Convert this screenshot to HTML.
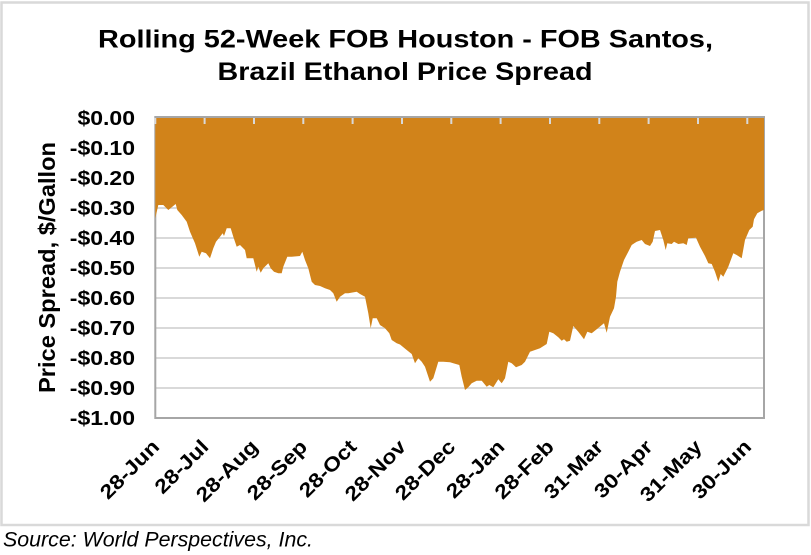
<!DOCTYPE html>
<html>
<head>
<meta charset="utf-8">
<style>
  html, body { margin:0; padding:0; background:#ffffff; }
  body { width:811px; height:555px; overflow:hidden; }
  svg { display:block; }
  text { font-family:"Liberation Sans", Arial, sans-serif; fill:#000; }
</style>
</head>
<body>
<svg width="811" height="555" viewBox="0 0 811 555" xmlns="http://www.w3.org/2000/svg">
  <rect x="0" y="0" width="811" height="555" fill="#ffffff"/>
  <!-- outer chart border -->
  <rect x="1.5" y="2.5" width="807" height="522.5" fill="none" stroke="#d9d9d9" stroke-width="2.5"/>

  <!-- title -->
  <text x="405.5" y="47.3" font-size="25" font-weight="bold" text-anchor="middle" textLength="615" lengthAdjust="spacingAndGlyphs">Rolling 52-Week FOB Houston - FOB Santos,</text>
  <text x="405" y="80" font-size="25" font-weight="bold" text-anchor="middle" textLength="375" lengthAdjust="spacingAndGlyphs">Brazil Ethanol Price Spread</text>

  <!-- gridlines -->
  <g stroke="#d9d9d9" stroke-width="2">
    <line x1="155" y1="148" x2="764" y2="148"/>
    <line x1="155" y1="178" x2="764" y2="178"/>
    <line x1="155" y1="208" x2="764" y2="208"/>
    <line x1="155" y1="238" x2="764" y2="238"/>
    <line x1="155" y1="268" x2="764" y2="268"/>
    <line x1="155" y1="298" x2="764" y2="298"/>
    <line x1="155" y1="328" x2="764" y2="328"/>
    <line x1="155" y1="358" x2="764" y2="358"/>
    <line x1="155" y1="388" x2="764" y2="388"/>
  </g>

  <!-- plot border -->
  <rect x="155.3" y="117" width="608.7" height="301" fill="none" stroke="#a6a6a6" stroke-width="2"/>

  <!-- area -->
  <path fill="#d1831a" d="M155.3,118 L155.3,218.3 L158.3,205 L163.3,205 L168.3,210 L171.7,207.3 L175.7,204 L177.3,210 L181.7,215 L186.7,221.7 L190,231.7 L195,243.3 L199.3,256.7 L201.7,251.7 L206,253.3 L210,258.3 L213.3,248.3 L216,241.7 L220,236.7 L222.7,233.3 L224,236 L226.7,228.3 L230.7,228.3 L233.3,236.7 L236.7,246.7 L240,245 L245,250 L246.7,258.3 L253.3,258.3 L255,265 L256.7,271.7 L258.3,266.7 L260.7,272.7 L263.3,268.3 L268.3,263.3 L270.7,268.3 L274,271.7 L278.3,273.3 L281.7,273.3 L283.3,266.7 L287.3,256.7 L291.7,256.7 L300,256 L302.3,251.7 L305,260 L308.3,268.3 L311.7,281.7 L315,285 L320,286 L325,288.3 L330,290 L333.3,293.3 L336.7,301.7 L340,296.7 L345,293.3 L348.3,293.3 L356.7,291.7 L360,294 L365,296.7 L368.3,313.3 L370.7,328.3 L372.7,318.3 L376.7,318.3 L380,325 L385,328.3 L389.3,333.3 L391.7,340 L396.7,343.3 L400,344.5 L406.7,350 L411.7,354 L415,363.3 L418.3,358.3 L421.7,361.7 L425,366.7 L430,381.7 L433.3,378.3 L438.3,361.7 L443.3,361.7 L450,362.3 L453.3,363.3 L459.3,365 L461.7,376.7 L465,390 L468.3,387.3 L471.7,383.3 L476.7,380.7 L481.7,380.7 L486.7,386.7 L489.3,385 L493.3,387.3 L498.3,379.3 L501.7,383.3 L505,378.3 L508.3,361.7 L511.7,363.3 L516,367.3 L521.7,365 L525,361.7 L530,351.7 L535,350 L540,348.3 L546.7,344 L549.3,331.7 L553.3,333.3 L558.3,337.3 L561.7,340.7 L564,339.3 L566.7,341.7 L570,340.7 L573.3,326 L578.3,331.7 L584,339.3 L587.3,331.7 L591.7,333.3 L596.7,329.3 L604,323.3 L606.7,332.7 L610,316.7 L614,308.3 L616,296.7 L617.3,281.7 L620,271.7 L624,260 L628.3,251.7 L631.7,245 L636.7,241.7 L641.7,240 L645,244 L650,246 L652.7,241.7 L655,231 L660,230 L663.3,240 L665.7,250 L667.3,243.3 L671.7,244 L674,241.7 L678.3,244 L683.3,243.3 L686.7,245 L688.3,238.3 L696,237.7 L700,246.7 L705,256 L708.3,263.3 L711.7,264 L715,271.7 L718.3,281.7 L720.7,274 L723.3,276.7 L728.3,266.7 L733.3,253.3 L736.7,255 L741.7,258.3 L745,240 L749.3,230 L752.7,226.7 L754,219.3 L757.3,213.3 L761.7,210.7 L764,210 L764,118 Z"/>

  <!-- tick marks -->
  <g stroke="#d9d9d9" stroke-width="2">
    <line x1="155.3" y1="118" x2="155.3" y2="124"/>
    <line x1="204.6" y1="118" x2="204.6" y2="124"/>
    <line x1="254" y1="118" x2="254" y2="124"/>
    <line x1="303.3" y1="118" x2="303.3" y2="124"/>
    <line x1="352.6" y1="118" x2="352.6" y2="124"/>
    <line x1="402" y1="118" x2="402" y2="124"/>
    <line x1="451.3" y1="118" x2="451.3" y2="124"/>
    <line x1="500.6" y1="118" x2="500.6" y2="124"/>
    <line x1="550" y1="118" x2="550" y2="124"/>
    <line x1="599.3" y1="118" x2="599.3" y2="124"/>
    <line x1="648.6" y1="118" x2="648.6" y2="124"/>
    <line x1="698" y1="118" x2="698" y2="124"/>
    <line x1="747.3" y1="118" x2="747.3" y2="124"/>
  </g>

  <!-- y tick labels -->
  <g font-size="20" font-weight="bold" text-anchor="end">
    <text transform="translate(135,125) scale(1.15,1)">$0.00</text>
    <text transform="translate(135,155) scale(1.15,1)">-$0.10</text>
    <text transform="translate(135,185) scale(1.15,1)">-$0.20</text>
    <text transform="translate(135,215) scale(1.15,1)">-$0.30</text>
    <text transform="translate(135,245) scale(1.15,1)">-$0.40</text>
    <text transform="translate(135,275) scale(1.15,1)">-$0.50</text>
    <text transform="translate(135,305) scale(1.15,1)">-$0.60</text>
    <text transform="translate(135,335) scale(1.15,1)">-$0.70</text>
    <text transform="translate(135,365) scale(1.15,1)">-$0.80</text>
    <text transform="translate(135,395) scale(1.15,1)">-$0.90</text>
    <text transform="translate(135,425) scale(1.15,1)">-$1.00</text>
  </g>

  <!-- y axis title -->
  <text transform="translate(55,267.5) scale(1.15,1) rotate(-90)" font-size="20" font-weight="bold" text-anchor="middle" textLength="251" lengthAdjust="spacingAndGlyphs">Price Spread, $/Gallon</text>

  <!-- x tick labels -->
  <g font-size="20" font-weight="bold" text-anchor="end">
    <text transform="translate(160.5,448) rotate(-45) scale(1.15,1)">28-Jun</text>
    <text transform="translate(209.8,448) rotate(-45) scale(1.15,1)">28-Jul</text>
    <text transform="translate(259.2,448) rotate(-45) scale(1.15,1)">28-Aug</text>
    <text transform="translate(308.5,448) rotate(-45) scale(1.15,1)">28-Sep</text>
    <text transform="translate(357.8,448) rotate(-45) scale(1.15,1)">28-Oct</text>
    <text transform="translate(407.2,448) rotate(-45) scale(1.15,1)">28-Nov</text>
    <text transform="translate(456.5,448) rotate(-45) scale(1.15,1)">28-Dec</text>
    <text transform="translate(505.8,448) rotate(-45) scale(1.15,1)">28-Jan</text>
    <text transform="translate(555.2,448) rotate(-45) scale(1.15,1)">28-Feb</text>
    <text transform="translate(604.5,448) rotate(-45) scale(1.15,1)">31-Mar</text>
    <text transform="translate(653.8,448) rotate(-45) scale(1.15,1)">30-Apr</text>
    <text transform="translate(703.2,448) rotate(-45) scale(1.15,1)">31-May</text>
    <text transform="translate(752.5,448) rotate(-45) scale(1.15,1)">30-Jun</text>
  </g>

  <!-- source -->
  <text x="3" y="546.5" font-size="21" font-style="italic" textLength="310" lengthAdjust="spacingAndGlyphs">Source: World Perspectives, Inc.</text>
</svg>
</body>
</html>
